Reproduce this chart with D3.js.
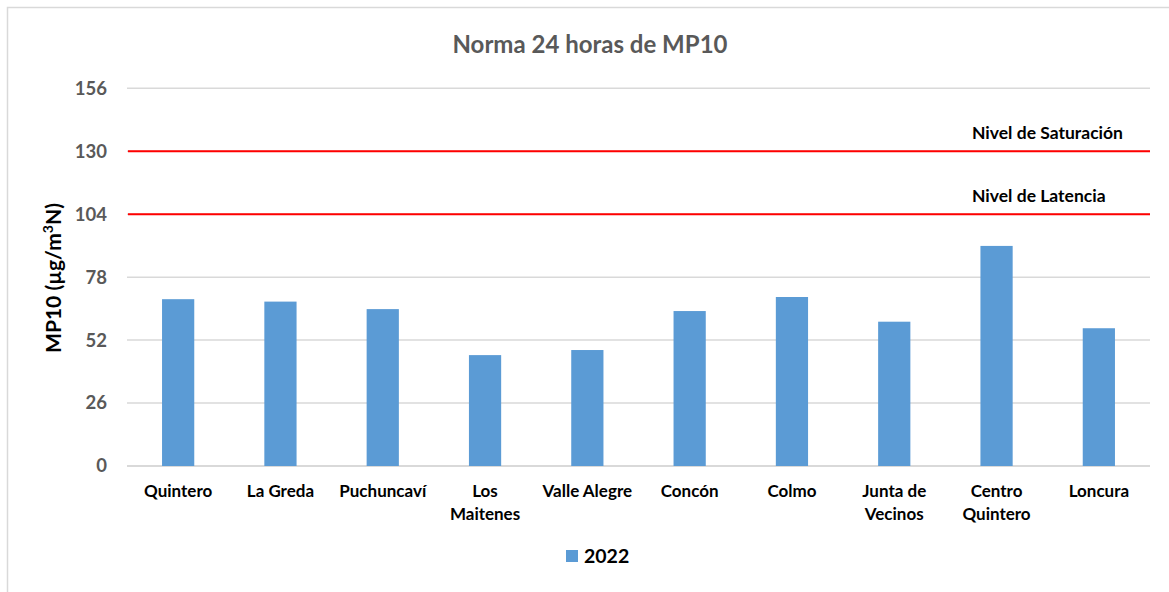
<!DOCTYPE html>
<html>
<head>
<meta charset="utf-8">
<script src="https://cdn.jsdelivr.net/npm/d3@7"></script>
<style>
  body { margin: 0; background: #fff; }
  svg { display: block; font-family: Lato, "Open Sans", sans-serif; font-weight: bold; }
</style>
</head>
<body>
<div id="chart"></div>
<script>
// stations and 2022 values (µg/m3N)
var stations = ["Quintero", "La Greda", "Puchuncaví", "Los\nMaitenes", "Valle Alegre",
                "Concón", "Colmo", "Junta de\nVecinos", "Centro\nQuintero", "Loncura"];
var values2022 = [68.9, 67.9, 64.8, 45.8, 47.9, 64.0, 69.8, 59.6, 90.9, 56.9];
var yTicks = [0, 26, 52, 78, 104, 130, 156];
var refNames = ["Nivel de Saturación", "Nivel de Latencia"];
var refValues = [130, 104];
var seriesName = "2022";

var width = 1169, height = 592;
var barColor = "#5B9BD5";

var svg = d3.select("#chart").append("svg")
    .attr("width", width)
    .attr("height", height);

// chart frame
svg.append("path")
    .attr("d", "M7.5,592 L7.5,7.5 L1169,7.5")
    .attr("fill", "none")
    .attr("stroke", "#d9d9d9")
    .attr("stroke-width", 1.5);

var x = d3.scaleBand()
    .domain(stations)
    .range([127, 1150])
    .paddingInner(0.685)
    .paddingOuter(0.3425);

var y = d3.scaleLinear()
    .domain([0, 156])
    .range([466, 88.3]);

// gridlines
svg.append("g")
    .selectAll("line")
    .data(yTicks)
    .enter().append("line")
    .attr("x1", 127)
    .attr("x2", 1150)
    .attr("y1", function (d) { return y(d); })
    .attr("y2", function (d) { return y(d); })
    .attr("stroke", "#d9d9d9")
    .attr("stroke-width", function (d) { return d == 0 ? 2 : 1.5; });

// y axis labels
var yAxis = d3.axisLeft(y).tickValues(yTicks).tickSize(0).tickPadding(0);
var gy = svg.append("g")
    .attr("transform", "translate(107,0)")
    .call(yAxis);
gy.select(".domain").remove();
gy.selectAll("text")
    .attr("fill", "#595959")
    .style("font-size", "18.5px")
    .style("font-family", "Lato, 'Open Sans', sans-serif")
    .style("font-weight", "bold");

// bars
svg.append("g")
    .selectAll("rect")
    .data(values2022)
    .enter().append("rect")
    .attr("x", function (d, i) { return x(stations[i]); })
    .attr("width", x.bandwidth())
    .attr("y", function (d) { return y(d); })
    .attr("height", function (d) { return y(0) - y(d); })
    .attr("fill", barColor);

// reference lines
svg.append("g")
    .selectAll("line")
    .data(refValues)
    .enter().append("line")
    .attr("x1", 128)
    .attr("x2", 1150)
    .attr("y1", function (d) { return y(d); })
    .attr("y2", function (d) { return y(d); })
    .attr("stroke", "#ff0000")
    .attr("stroke-width", 2);

svg.append("g")
    .selectAll("text")
    .data(refNames)
    .enter().append("text")
    .attr("x", 972)
    .attr("y", function (d, i) { return y(refValues[i]) - 12; })
    .attr("fill", "#000")
    .style("font-size", "17.5px")
    .text(function (d) { return d; });

// category labels
var xLabels = svg.append("g")
    .selectAll("text")
    .data(stations)
    .enter().append("text")
    .attr("x", function (d) { return x(d) + x.bandwidth() / 2; })
    .attr("y", 497)
    .attr("text-anchor", "middle")
    .attr("fill", "#000")
    .style("font-size", "17px");

xLabels.each(function (d) {
    var t = d3.select(this);
    d.split("\n").forEach(function (line, k) {
        t.append("tspan")
            .attr("x", x(d) + x.bandwidth() / 2)
            .attr("dy", k == 0 ? 0 : 23)
            .text(line);
    });
});

// title
svg.append("text")
    .attr("x", 590)
    .attr("y", 53)
    .attr("text-anchor", "middle")
    .attr("fill", "#595959")
    .style("font-size", "24px")
    .text("Norma 24 horas de MP10");

// y axis title
var yTitle = svg.append("text")
    .attr("transform", "translate(61,278) rotate(-90)")
    .attr("text-anchor", "middle")
    .attr("fill", "#000")
    .style("font-size", "21px");
yTitle.append("tspan").text("MP10 (µg/m");
yTitle.append("tspan").attr("baseline-shift", "super").style("font-size", "14px").text("3");
yTitle.append("tspan").text("N)");

// legend
var legend = svg.append("g").attr("transform", "translate(566,550)");
legend.append("rect")
    .attr("width", 12)
    .attr("height", 12)
    .attr("fill", barColor);
legend.append("text")
    .attr("x", 18)
    .attr("y", 13)
    .attr("fill", "#000")
    .style("font-size", "19.5px")
    .text(seriesName);
</script>
</body>
</html>
